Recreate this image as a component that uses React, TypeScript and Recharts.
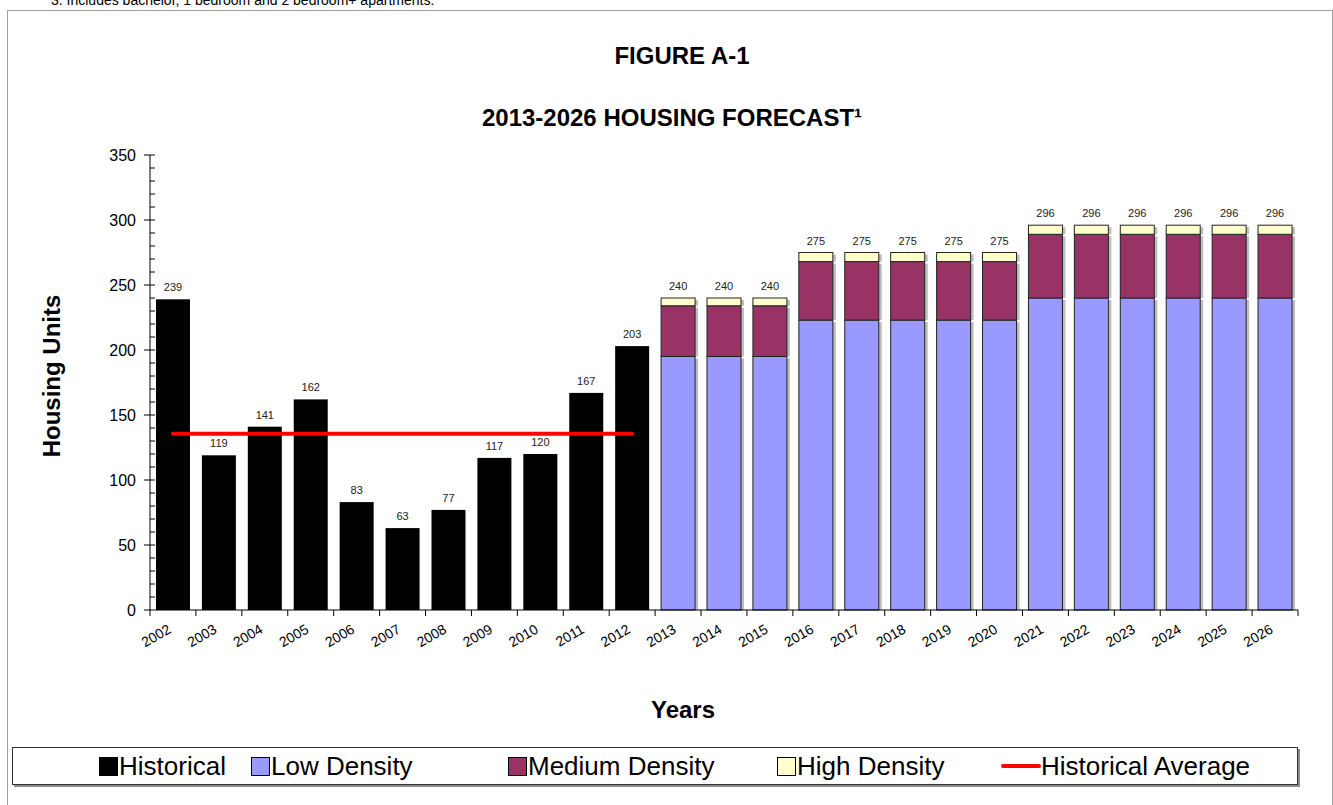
import React from "react";
import { ComposedChart, Bar, Line, XAxis, YAxis, LabelList } from "recharts";

const YEARS = [
  "2002", "2003", "2004", "2005", "2006", "2007", "2008", "2009", "2010", "2011", "2012",
  "2013", "2014", "2015", "2016", "2017", "2018", "2019", "2020", "2021", "2022", "2023", "2024", "2025", "2026",
];
const HISTORICAL = [239, 119, 141, 162, 83, 63, 77, 117, 120, 167, 203, null, null, null, null, null, null, null, null, null, null, null, null, null, null];
const LOW_DENSITY = [null, null, null, null, null, null, null, null, null, null, null, 195, 195, 195, 223, 223, 223, 223, 223, 240, 240, 240, 240, 240, 240];
const MEDIUM_DENSITY = [null, null, null, null, null, null, null, null, null, null, null, 39, 39, 39, 45, 45, 45, 45, 45, 49, 49, 49, 49, 49, 49];
const HIGH_DENSITY = [null, null, null, null, null, null, null, null, null, null, null, 6, 6, 6, 7, 7, 7, 7, 7, 7, 7, 7, 7, 7, 7];
const HIST_AVERAGE = [135.5, 135.5, 135.5, 135.5, 135.5, 135.5, 135.5, 135.5, 135.5, 135.5, 135.5, null, null, null, null, null, null, null, null, null, null, null, null, null, null];
const Y_TICKS = [0, 10, 20, 30, 40, 50, 60, 70, 80, 90, 100, 110, 120, 130, 140, 150, 160, 170, 180, 190, 200, 210, 220, 230, 240, 250, 260, 270, 280, 290, 300, 310, 320, 330, 340, 350];

const data = YEARS.map((year, i) => ({
  year,
  historical: HISTORICAL[i],
  low: LOW_DENSITY[i],
  medium: MEDIUM_DENSITY[i],
  high: HIGH_DENSITY[i],
  avg: HIST_AVERAGE[i],
  total: LOW_DENSITY[i] == null ? null : (LOW_DENSITY[i] as number) + (MEDIUM_DENSITY[i] as number) + (HIGH_DENSITY[i] as number),
}));

const FONT = "'Liberation Sans', Arial, sans-serif";
const CHART_W = 1333;
const CHART_H = 700;
const MARGIN = { top: 155, right: 35, bottom: 50, left: 90 };
const Y_AXIS_W = 60;
const PLOT_W = CHART_W - MARGIN.left - Y_AXIS_W - MARGIN.right;
const BAND = PLOT_W / YEARS.length;

const COLORS = {
  historical: "#000000",
  low: "#9999ff",
  medium: "#993366",
  high: "#ffffcc",
  avg: "#ff0000",
};

const YTick = ({ x, y, payload }: any) => {
  const v = payload.value;
  const major = v % 50 === 0;
  return (
    <g>
      {v !== 0 && <line x1={x} x2={x + 5} y1={y} y2={y} stroke="#000" />}
      {major && <line x1={x - 6} x2={x} y1={y} y2={y} stroke="#000" />}
      {major && (
        <text x={x - 14} y={y} dy="0.35em" textAnchor="end" fontSize={16} fill="#000" fontFamily={FONT}>
          {v}
        </text>
      )}
    </g>
  );
};

const XTick = ({ x, y, payload, index }: any) => {
  const half = BAND / 2;
  const tx = x - 1;
  const ty = y + 22;
  return (
    <g>
      <line x1={x - half} x2={x - half} y1={y} y2={y + 6} stroke="#000" />
      {index === YEARS.length - 1 && <line x1={x + half} x2={x + half} y1={y} y2={y + 6} stroke="#000" />}
      <text x={tx} y={ty} textAnchor="end" transform={`rotate(-30, ${tx}, ${ty})`} fontSize={14} fill="#000" fontFamily={FONT}>
        {payload.value}
      </text>
    </g>
  );
};

// forecast segments: dark outline plus the little grey drop shadow on the right
const ShadowBar = (props: any) => {
  const { x, y, width, height, fill, value } = props;
  if (value == null || !height || height <= 0) return null;
  const v = Array.isArray(value) ? value[1] - value[0] : value;
  if (!v) return null;
  return (
    <g>
      <rect x={x + width} y={y + 2} width={3} height={Math.max(0, height - 2)} fill="#bdbdbd" />
      <rect x={x} y={y} width={width} height={height} fill={fill} stroke="#222" strokeWidth={1} />
    </g>
  );
};

const PlainBar = (props: any) => {
  const { x, y, width, height, fill } = props;
  if (!height || height <= 0) return null;
  return <rect x={x} y={y} width={width} height={height} fill={fill} />;
};

const ValueLabel = ({ x, y, width, value }: any) => {
  if (value == null || value === 0) return null;
  return (
    <text x={x + width / 2} y={y - 8} textAnchor="middle" fontSize={11} fill="#222" fontFamily={FONT}>
      {value}
    </text>
  );
};

const LegendSwatch = ({ color }: { color: string }) => (
  <span style={{ display: "inline-block", width: 17, height: 17, background: color, border: "1px solid #000", marginRight: 1 }} />
);

export default function App() {
  return (
    <div style={{ position: "absolute", left: 0, top: 0, width: 1333, height: 805, overflow: "hidden", background: "#fff", fontFamily: FONT, color: "#000" }}>
      <div style={{ position: "absolute", left: 51, top: -8, fontSize: 14, whiteSpace: "nowrap" }}>
        3. Includes bachelor, 1 bedroom and 2 bedroom+ apartments.
      </div>
      <div style={{ position: "absolute", left: 7, top: 10, width: 1324, height: 900, border: "1px solid #a0a0a0" }} />

      <div style={{ position: "absolute", left: 382, top: 44, width: 600, textAlign: "center", fontSize: 24, lineHeight: "24px", fontWeight: "bold" }}>
        FIGURE A-1
      </div>
      <div style={{ position: "absolute", left: 372, top: 106, width: 600, textAlign: "center", fontSize: 24, lineHeight: "24px", fontWeight: "bold" }}>
        2013-2026 HOUSING FORECAST¹
      </div>
      <div
        style={{
          position: "absolute", left: 52 - 150, top: 376 - 12, width: 300, textAlign: "center",
          fontSize: 24, lineHeight: "24px", fontWeight: "bold", transform: "rotate(-90deg)",
        }}
      >
        Housing Units
      </div>
      <div style={{ position: "absolute", left: 383, top: 698, width: 600, textAlign: "center", fontSize: 24, lineHeight: "24px", fontWeight: "bold" }}>
        Years
      </div>

      <div style={{ position: "absolute", left: 0, top: 0 }}>
        <ComposedChart width={CHART_W} height={CHART_H} data={data} margin={MARGIN} barCategoryGap="13%">
          <XAxis
            dataKey="year"
            height={40}
            interval={0}
            tickSize={0}
            tickMargin={0}
            tickLine={false}
            axisLine={{ stroke: "#000" }}
            tick={<XTick />}
          />
          <YAxis
            width={Y_AXIS_W}
            domain={[0, 350]}
            ticks={Y_TICKS}
            interval={0}
            tickSize={0}
            tickMargin={0}
            tickLine={false}
            axisLine={{ stroke: "#000" }}
            tick={<YTick />}
          />
          <Bar dataKey="historical" stackId="a" fill={COLORS.historical} shape={<PlainBar />} isAnimationActive={false}>
            <LabelList dataKey="historical" content={<ValueLabel />} />
          </Bar>
          <Bar dataKey="low" stackId="a" fill={COLORS.low} shape={<ShadowBar />} isAnimationActive={false} />
          <Bar dataKey="medium" stackId="a" fill={COLORS.medium} shape={<ShadowBar />} isAnimationActive={false} />
          <Bar dataKey="high" stackId="a" fill={COLORS.high} shape={<ShadowBar />} isAnimationActive={false}>
            <LabelList dataKey="total" content={<ValueLabel />} />
          </Bar>
          <Line
            dataKey="avg"
            stroke={COLORS.avg}
            strokeWidth={4}
            strokeLinecap="round"
            dot={false}
            activeDot={false}
            isAnimationActive={false}
          />
        </ComposedChart>
      </div>

      <div
        style={{
          position: "absolute", left: 12, top: 747, width: 1284, height: 36, border: "1px solid #333",
          boxShadow: "2px 2px 0 #8a8a8a", fontSize: 26, lineHeight: "36px", background: "#fff",
        }}
      >
        <div style={{ position: "absolute", left: 86, top: 0, display: "flex", alignItems: "center", height: 36 }}>
          <LegendSwatch color={COLORS.historical} />Historical
        </div>
        <div style={{ position: "absolute", left: 238, top: 0, display: "flex", alignItems: "center", height: 36 }}>
          <LegendSwatch color={COLORS.low} />Low Density
        </div>
        <div style={{ position: "absolute", left: 495, top: 0, display: "flex", alignItems: "center", height: 36 }}>
          <LegendSwatch color={COLORS.medium} />Medium Density
        </div>
        <div style={{ position: "absolute", left: 764, top: 0, display: "flex", alignItems: "center", height: 36 }}>
          <LegendSwatch color={COLORS.high} />High Density
        </div>
        <div style={{ position: "absolute", left: 988, top: 0, display: "flex", alignItems: "center", height: 36 }}>
          <span style={{ display: "inline-block", width: 40, height: 4, borderRadius: 2, background: COLORS.avg }} />Historical Average
        </div>
      </div>
    </div>
  );
}
